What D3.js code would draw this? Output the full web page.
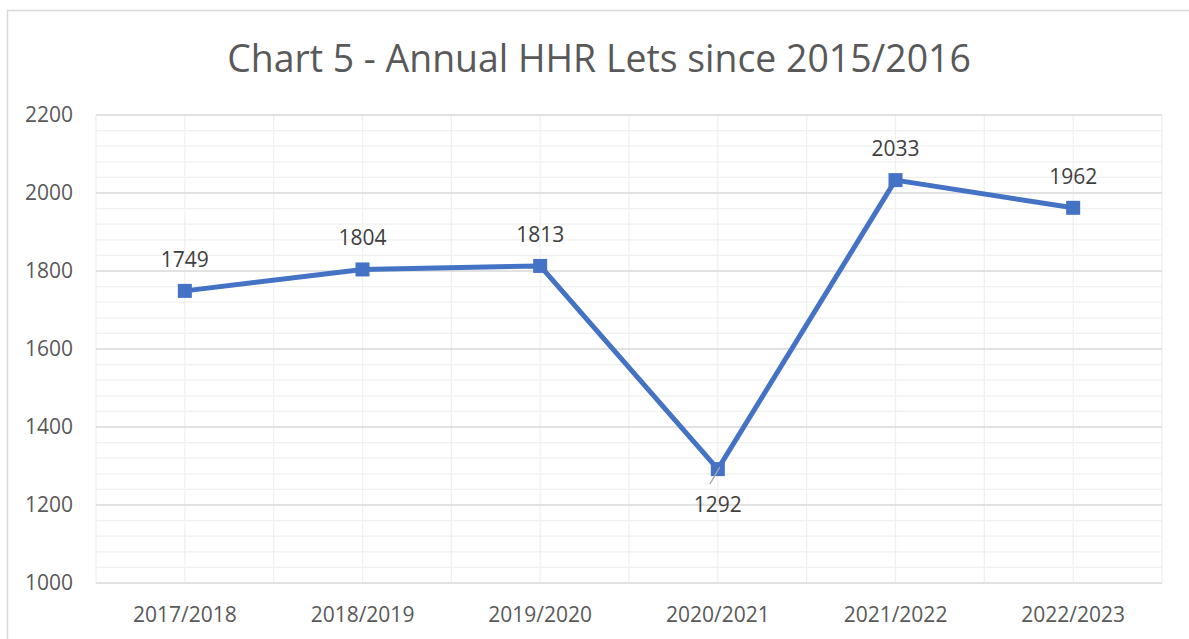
<!DOCTYPE html>
<html>
<head>
<meta charset="utf-8">
<script src="https://cdn.jsdelivr.net/npm/d3@7"></script>
<style>
  body { margin: 0; background: #fff; }
  svg text { font-family: "Open Sans", "Noto Sans", sans-serif; }
</style>
</head>
<body>
<svg id="chart" width="1189" height="639"></svg>
<script>
const categories = ['2017/2018', '2018/2019', '2019/2020', '2020/2021', '2021/2022', '2022/2023'];
const lets = [1749, 1804, 1813, 1292, 2033, 1962];
const yTicks = [1000, 1200, 1400, 1600, 1800, 2000, 2200];
const labelBelow = [false, false, false, true, false, false];

const svg = d3.select('#chart');
const plotLeft = 96, plotRight = 1162, plotTop = 115, plotBottom = 583;

// chart frame
svg.append('rect')
  .attr('x', 7.5).attr('y', 10.5)
  .attr('width', 1200).attr('height', 700)
  .attr('fill', '#fff').attr('stroke', '#d9d9d9').attr('stroke-width', 1.5);

svg.append('text')
  .attr('x', 599).attr('y', 72)
  .attr('text-anchor', 'middle')
  .attr('font-size', 37.4)
  .attr('fill', '#595959')
  .text('Chart 5 - Annual HHR Lets since 2015/2016');

const x = d3.scaleBand().domain(categories).range([plotLeft, plotRight]);
const y = d3.scaleLinear().domain([1000, 2200]).range([plotBottom, plotTop]);
const cx = d => x(d) + x.bandwidth() / 2;

// minor horizontal grid
const minor = d3.range(1000, 2201, 40).filter(v => v % 200 !== 0);
svg.append('g').selectAll('line').data(minor).enter().append('line')
  .attr('x1', plotLeft).attr('x2', plotRight)
  .attr('y1', d => y(d)).attr('y2', d => y(d))
  .attr('stroke', '#f0f0f0').attr('stroke-width', 1.3);

// minor vertical grid (category centres and boundaries)
const vlines = [];
categories.forEach(c => { vlines.push(x(c)); vlines.push(cx(c)); });
vlines.push(plotRight);
svg.append('g').selectAll('line').data(vlines).enter().append('line')
  .attr('x1', d => d).attr('x2', d => d)
  .attr('y1', plotTop).attr('y2', plotBottom)
  .attr('stroke', '#f0f0f0').attr('stroke-width', 1.3);

// major horizontal grid
svg.append('g').selectAll('line').data(yTicks).enter().append('line')
  .attr('x1', plotLeft).attr('x2', plotRight)
  .attr('y1', d => y(d)).attr('y2', d => y(d))
  .attr('stroke', '#d9d9d9').attr('stroke-width', 1.3);

// y axis labels
const yAxis = svg.append('g')
  .attr('transform', 'translate(' + (plotLeft - 23) + ',0)')
  .call(d3.axisLeft(y).tickValues(yTicks).tickSize(0).tickPadding(0).tickFormat(d3.format('d')));
yAxis.select('.domain').remove();
yAxis.selectAll('text').attr('font-size', 21).attr('fill', '#595959')
  .style('font-family', '"Open Sans", sans-serif');

// x axis labels
const xAxis = svg.append('g')
  .attr('transform', 'translate(0,' + (plotBottom + 39) + ')')
  .call(d3.axisBottom(x).tickSize(0).tickPadding(0));
xAxis.select('.domain').remove();
xAxis.selectAll('text').attr('font-size', 21).attr('fill', '#595959')
  .attr('y', 0).attr('dy', 0)
  .style('font-family', '"Open Sans", sans-serif');

const pts = categories.map((c, i) => ({ c, v: lets[i], below: labelBelow[i] }));

// line
svg.append('path')
  .datum(pts)
  .attr('fill', 'none')
  .attr('stroke', '#4472c4')
  .attr('stroke-width', 5)
  .attr('stroke-linejoin', 'round')
  .attr('d', d3.line().x(d => cx(d.c)).y(d => y(d.v)));

// markers
svg.append('g').selectAll('rect').data(pts).enter().append('rect')
  .attr('x', d => cx(d.c) - 7).attr('y', d => y(d.v) - 7)
  .attr('width', 14).attr('height', 14)
  .attr('fill', '#4472c4');

// leader line for label below
svg.append('g').selectAll('line').data(pts.filter(d => d.below)).enter().append('line')
  .attr('x1', d => cx(d.c) + 2).attr('y1', d => y(d.v) - 2)
  .attr('x2', d => cx(d.c) - 8).attr('y2', d => y(d.v) + 15)
  .attr('stroke', '#a6a6a6').attr('stroke-width', 1.3);

// data labels
svg.append('g').selectAll('text').data(pts).enter().append('text')
  .attr('x', d => cx(d.c))
  .attr('y', d => d.below ? y(d.v) + 43 : y(d.v) - 24)
  .attr('text-anchor', 'middle')
  .attr('font-size', 21)
  .attr('fill', '#404040')
  .text(d => d.v);
</script>
</body>
</html>
